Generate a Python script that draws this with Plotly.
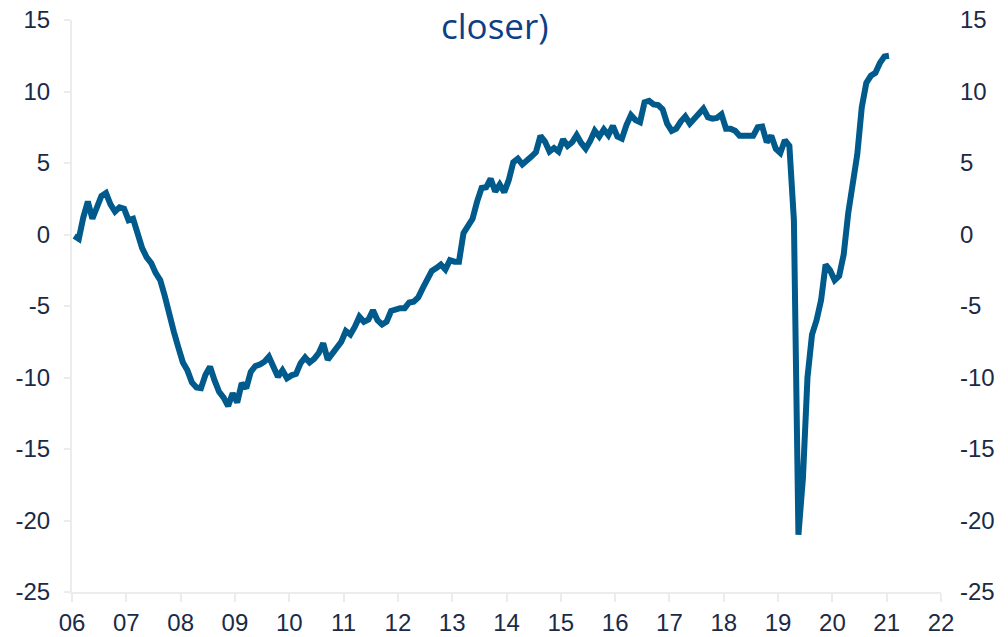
import plotly.graph_objects as go

start_year = 2006
values = [
    -0.1, -0.3, 1.2, 2.3, 1.1, 1.8, 2.7, 2.9, 2.1, 1.6, 1.9, 1.8,
    1.0, 1.1, 0.0, -0.95, -1.6, -2.0, -2.7, -3.2, -4.3, -5.8, -6.8, -7.9,
    -8.95, -9.5, -10.35, -10.7, -10.75, -9.8, -9.25, -10.2, -11.0, -11.4, -12.0, -11.1,
    -11.75, -10.4, -10.75, -9.6, -9.2, -9.1, -8.9, -8.55, -9.3, -9.95, -9.5, -10.05,
    -9.85, -9.75, -9.0, -8.6, -8.95, -8.7, -8.3, -7.6, -8.75, -8.3, -7.9, -7.5,
    -6.75, -7.0, -6.45, -5.75, -6.1, -5.95, -5.3, -6.0, -6.3, -6.1, -5.35, -5.2,
    -5.15, -5.15, -4.75, -4.7, -4.4, -3.75, -3.2, -2.55, -2.35, -2.1, -2.45, -1.8,
    -1.9, -1.9, 0.1, 0.7, 1.1, 2.3, 3.25, 3.3, 3.9, 3.0, 3.5, 2.95,
    3.8, 5.05, 5.3, 4.9, 5.25, 5.45, 5.75, 6.9, 6.5, 5.8, 6.05, 5.8,
    6.65, 6.2, 6.45, 6.95, 6.4, 6.0, 6.55, 7.25, 6.85, 7.35, 6.95, 7.6,
    6.85, 6.7, 7.65, 8.35, 8.0, 7.85, 9.25, 9.35, 9.1, 9.05, 8.75, 7.75,
    7.25, 7.4, 7.9, 8.25, 7.75, 8.1, 8.6, 8.8, 8.2, 8.1, 8.15, 8.4,
    7.4, 7.4, 7.25, 6.9, 6.9, 6.95, 6.9, 7.5, 7.55, 6.45, 6.9, 6.0,
    5.7, 6.6, 6.2, 1.0, -21.0, -17.0, -10.0, -7.0, -6.0, -4.6, -2.1, -2.5,
    -3.2, -2.9, -1.4, 1.5, 3.6, 5.6, 8.9, 10.6, 11.1, 11.3, 12.0, 12.45,
    12.5,
]
x_years = [start_year + (i + 0.5) / 12 for i in range(len(values))]

x_tickvals = list(range(2006, 2023))
x_ticktext = [f"{y % 100:02d}" for y in x_tickvals]
y_tickvals = [-25, -20, -15, -10, -5, 0, 5, 10, 15]
y_ticktext = ["-25", "-20", "-15", "-10", "-5", "0", "5", "10", "15"]
title_text = "closer)"

line_color = "#005A8C"
tick_color = "#1B2A47"
axis_color = "#ECECEC"
tick_font = dict(family="Liberation Sans, Arial, sans-serif", size=24, color=tick_color)

fig = go.Figure()
fig.add_trace(go.Scatter(
    x=x_years, y=values, mode="lines",
    line=dict(color=line_color, width=6),
    hoverinfo="skip", showlegend=False,
))
fig.add_trace(go.Scatter(
    x=x_years, y=values, mode="lines", yaxis="y2",
    line=dict(color="rgba(0,0,0,0)", width=0),
    hoverinfo="skip", showlegend=False,
))

fig.update_layout(
    width=1008, height=637,
    margin=dict(l=72, r=67, t=20, b=45, autoexpand=False),
    paper_bgcolor="white", plot_bgcolor="white",
    xaxis=dict(
        range=[2006, 2022], tickmode="array", tickvals=x_tickvals, ticktext=x_ticktext,
        showgrid=False, zeroline=False, showline=True, linecolor=axis_color, linewidth=2,
        ticks="outside", ticklen=8, tickcolor=axis_color, tickwidth=2,
        tickfont=tick_font, automargin=False,
    ),
    yaxis=dict(
        range=[-25, 15], tickmode="array", tickvals=y_tickvals, ticktext=y_ticktext,
        showgrid=False, zeroline=False, showline=True, linecolor=axis_color, linewidth=2,
        ticks="outside", ticklen=6, tickcolor=axis_color, tickwidth=2,
        ticklabelstandoff=9, tickfont=tick_font, automargin=False,
    ),
    yaxis2=dict(
        range=[-25, 15], tickmode="array", tickvals=y_tickvals, ticktext=y_ticktext,
        overlaying="y", side="right",
        showgrid=False, zeroline=False, showline=False, ticks="", ticklabelstandoff=18,
        tickfont=tick_font, automargin=False,
    ),
    annotations=[dict(
        text=title_text, xref="paper", yref="paper", x=0.487, y=1.0, yshift=20,
        xanchor="center", yanchor="top", showarrow=False,
        font=dict(family="Open Sans, Lato, sans-serif", size=35, color="#0D3F86"),
    )],
)

fig.write_html(
    "out.html",
    config={"displayModeBar": False},
    post_script="document.body.style.margin='0';document.body.style.overflow='hidden';",
)
